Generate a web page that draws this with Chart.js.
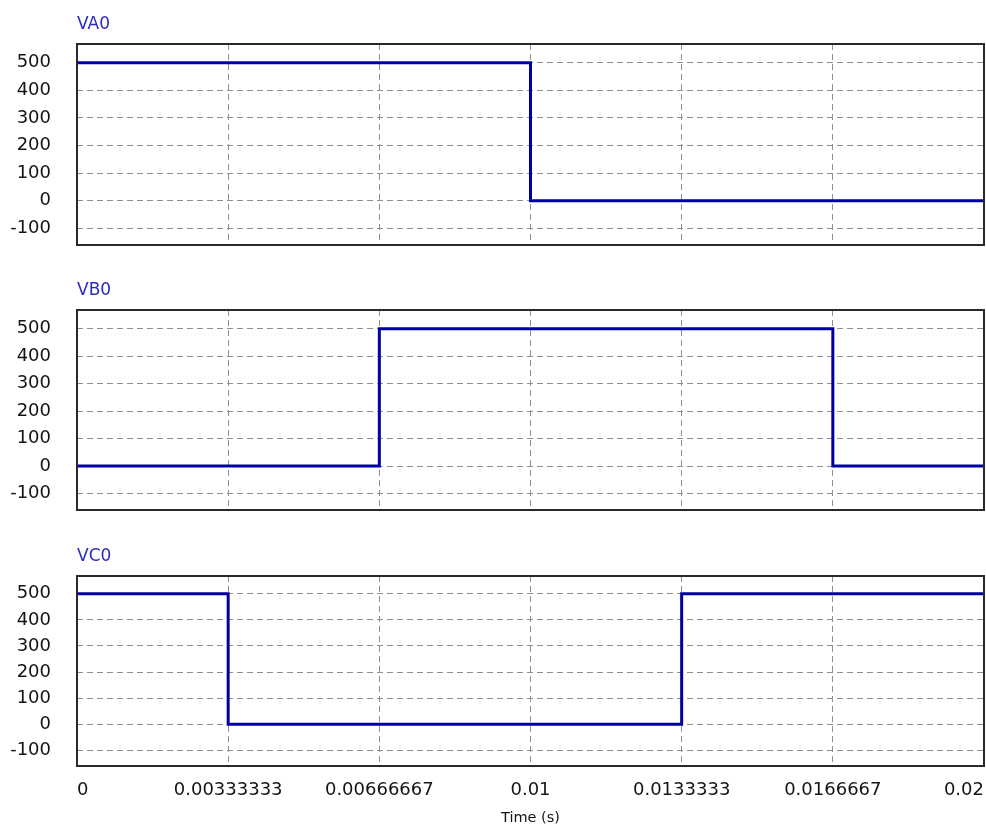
<!DOCTYPE html>
<html>
<head>
<meta charset="utf-8">
<script src="https://cdn.jsdelivr.net/npm/chart.js@4/dist/chart.umd.min.js"></script>
<style>
  html, body { margin: 0; padding: 0; background: #ffffff; }
  body { width: 986px; height: 827px; position: relative; overflow: hidden; }
  .panel { position: absolute; left: 0; width: 986px; }
</style>
</head>
<body>
<div class="panel" style="top:0px;height:260px"><canvas id="va"></canvas></div>
<div class="panel" style="top:265px;height:260px"><canvas id="vb"></canvas></div>
<div class="panel" style="top:530px;height:297px"><canvas id="vc"></canvas></div>
<script>
// Switching-leg output voltages over one 50 Hz period (step points: time, volts)
const vaTime  = [0, 0.01, 0.02];
const vaVolts = [500, 0, 0];
const vbTime  = [0, 0.00666667, 0.0166667, 0.02];
const vbVolts = [0, 500, 0, 0];
const vcTime  = [0, 0.00333333, 0.0133333, 0.02];
const vcVolts = [500, 0, 500, 500];

// Axis ticks
const timeTicks  = [0, 0.00333333, 0.00666667, 0.01, 0.0133333, 0.0166667, 0.02];
const timeLabels = ['0', '0.00333333', '0.00666667', '0.01', '0.0133333', '0.0166667', '0.02'];
const voltTicks  = [-100, 0, 100, 200, 300, 400, 500];

const LINE = '#0000a0';
const GRID = '#8f8f8f';
const TEXT = '#141414';
const TICK_FONT = { family: 'DejaVu Sans', size: 18 };

// Frame around the plot area plus the signal name above it
const framePlugin = {
  id: 'frame',
  afterDatasetsDraw(chart, args, opts) {
    const { ctx, chartArea: a } = chart;
    ctx.save();
    ctx.strokeStyle = '#2a2a2a';
    ctx.lineWidth = 2;
    ctx.strokeRect(a.left, a.top, a.right - a.left, a.bottom - a.top);
    ctx.fillStyle = '#2b2bc4';
    ctx.font = '17px "DejaVu Sans"';
    ctx.textAlign = 'left';
    ctx.textBaseline = 'middle';
    ctx.fillText(opts.name, a.left, a.top - 19);
    ctx.restore();
  }
};

function makePanel(id, name, times, volts, padTop, showTime) {
  const points = times.map((t, i) => ({ x: t, y: volts[i] }));
  const xScale = {
    type: 'linear',
    min: 0,
    max: 0.02,
    afterBuildTicks(scale) { scale.ticks = timeTicks.map(v => ({ value: v })); },
    afterFit(scale) {
      scale.height = showTime ? 61 : 0;
      scale.paddingLeft = 0;
      scale.paddingRight = 0;
      scale.paddingTop = 0;
      scale.paddingBottom = 0;
    },
    grid: { color: GRID, lineWidth: 1, drawTicks: false },
    border: { display: false, dash: [6, 4] },
    ticks: {
      display: showTime,
      align: 'inner',
      padding: 14,
      color: TEXT,
      font: TICK_FONT,
      maxRotation: 0,
      autoSkip: false,
      callback: (v, i) => timeLabels[i]
    },
    title: {
      display: showTime,
      text: 'Time (s)',
      color: TEXT,
      font: { family: 'DejaVu Sans', size: 14.5 },
      padding: { top: 0, bottom: 0 }
    }
  };
  return new Chart(document.getElementById(id), {
    type: 'line',
    data: {
      datasets: [{
        label: name,
        data: points,
        stepped: 'before',
        borderColor: LINE,
        borderWidth: 3,
        pointRadius: 0,
        fill: false
      }]
    },
    options: {
      responsive: true,
      maintainAspectRatio: false,
      animation: false,
      events: [],
      layout: {
        autoPadding: false,
        padding: { top: padTop, bottom: showTime ? 0 : 15, left: 0, right: 2 }
      },
      plugins: {
        legend: { display: false },
        tooltip: { enabled: false },
        frame: { name: name }
      },
      scales: {
        x: xScale,
        y: {
          type: 'linear',
          min: -160,
          max: 568,
          afterBuildTicks(scale) { scale.ticks = voltTicks.map(v => ({ value: v })); },
          afterFit(scale) {
            scale.width = 77;
            scale.paddingTop = 0;
            scale.paddingBottom = 0;
            scale.paddingLeft = 0;
            scale.paddingRight = 0;
          },
          grid: { color: GRID, lineWidth: 1, drawTicks: false },
          border: { display: false, dash: [6, 4] },
          ticks: { padding: 26, color: TEXT, font: TICK_FONT }
        }
      }
    },
    plugins: [framePlugin]
  });
}

makePanel('va', 'VA0', vaTime, vaVolts, 44, false);
makePanel('vb', 'VB0', vbTime, vbVolts, 45, false);
makePanel('vc', 'VC0', vcTime, vcVolts, 46, true);
</script>
</body>
</html>
